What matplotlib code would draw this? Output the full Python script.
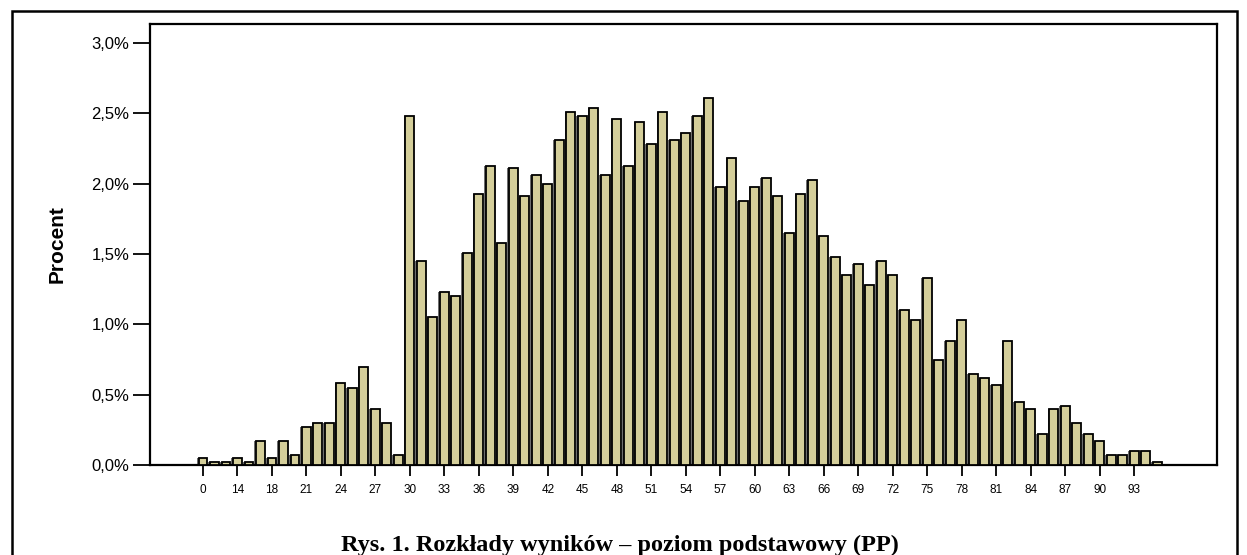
import matplotlib
matplotlib.use("Agg")
import matplotlib.pyplot as plt
from matplotlib.patches import Rectangle

scores = [0, 12, 13, 14, 15, 17, 18, 19, 20, 21, 22, 23, 24, 25, 26, 27, 28, 29,
          30, 31, 32, 33, 34, 35, 36, 37, 38, 39, 40, 41, 42, 43, 44, 45, 46, 47,
          48, 49, 50, 51, 52, 53, 54, 55, 56, 57, 58, 59, 60, 61, 62, 63, 64, 65,
          66, 67, 68, 69, 70, 71, 72, 73, 74, 75, 76, 77, 78, 79, 80, 81, 82, 83,
          84, 85, 86, 87, 88, 89, 90, 91, 92, 93, 94, 95]
percent = [0.05, 0.02, 0.02, 0.05, 0.02, 0.17, 0.05, 0.17, 0.07, 0.27, 0.30, 0.30,
           0.58, 0.55, 0.70, 0.40, 0.30, 0.07,
           2.48, 1.45, 1.05, 1.23, 1.20, 1.51, 1.93, 2.13, 1.58, 2.11, 1.91, 2.06,
           2.00, 2.31, 2.51, 2.48, 2.54,
           2.06, 2.46, 2.13, 2.44, 2.28, 2.51, 2.31, 2.36, 2.48, 2.61, 1.98, 2.18,
           1.88, 1.98, 2.04, 1.91,
           1.65, 1.93, 2.03, 1.63, 1.48, 1.35, 1.43, 1.28, 1.45, 1.35, 1.10, 1.03,
           1.33, 0.75, 0.88, 1.03, 0.65, 0.62,
           0.57, 0.88, 0.45, 0.40, 0.22, 0.40, 0.42, 0.30, 0.22, 0.17, 0.07, 0.07,
           0.10, 0.10, 0.02]
y_ticks = [0.0, 0.5, 1.0, 1.5, 2.0, 2.5, 3.0]
y_tick_labels = ["0,0%", "0,5%", "1,0%", "1,5%", "2,0%", "2,5%", "3,0%"]
caption = "Rys. 1. Rozkłady wyników – poziom podstawowy (PP)"

W, H = 1247, 555
fig = plt.figure(figsize=(W / 100, H / 100), dpi=100)
fig.patch.set_facecolor("white")

left_px, right_px, bottom_px, top_px = 150, 1217, 465, 23.5
ax = fig.add_axes([left_px / W, (H - bottom_px) / H,
                   (right_px - left_px) / W, (bottom_px - top_px) / H])

x = list(range(len(scores)))
shadow_x = [v - 0.13 for v in x]
ax.bar(shadow_x, percent, width=0.78, color="#6e6e6e", linewidth=0, zorder=2)
ax.bar(x, percent, width=0.76, color="#d4ce9a", edgecolor="black",
       linewidth=1.3, zorder=3)

ax.set_xlim(-4.6, 88.2)
ax.set_ylim(0, 3.14)

tick_idx = x[::3]
ax.set_xticks(tick_idx)
ax.set_xticklabels([str(scores[i]) for i in tick_idx], fontsize=8.5,
                   family="Liberation Sans")
ax.set_yticks(y_ticks)
ax.set_yticklabels(y_tick_labels, fontsize=12, family="Liberation Sans")
ax.tick_params(axis="x", length=8, width=1.3, pad=6)
ax.tick_params(axis="y", length=12, width=1.3, pad=3)

for s in ax.spines.values():
    s.set_linewidth(1.6)

ax.set_ylabel("Procent", fontsize=15, fontweight="bold",
              family="Liberation Sans")
ax.yaxis.set_label_coords((67 - left_px) / (right_px - left_px), 0.5)

fig.text(620 / W, (H - 551) / H, caption, ha="center", va="baseline",
         fontsize=17.5, fontweight="bold", family="Liberation Serif")

border = Rectangle((11.5 / W, -0.05), (1237 - 11.5) / W, (H - 11 + 0.05 * H) / H,
                   transform=fig.transFigure, fill=False, edgecolor="black",
                   linewidth=1.8)
fig.patches.append(border)

fig.savefig("out.png", dpi=100)
